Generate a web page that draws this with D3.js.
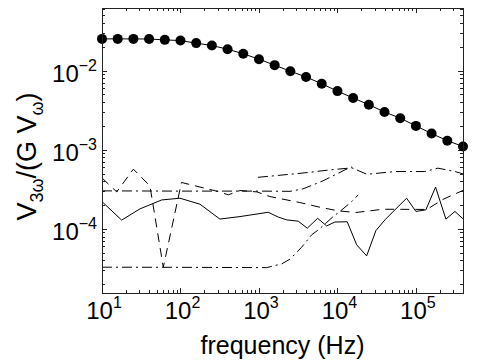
<!DOCTYPE html>
<html><head><meta charset="utf-8">
<script src="https://cdn.jsdelivr.net/npm/d3@7"></script>
<style>
html,body{margin:0;padding:0;background:#fff;}
svg{display:block;font-family:"Liberation Sans",Arial,Helvetica,sans-serif;}
</style></head>
<body><svg id="c" width="485" height="362"></svg>
<script>
// ---- data ----
const dotFreq = [10, 15.85, 25.12, 39.81, 63.1, 100, 158.5, 251.2, 398.1, 631, 1000, 1585, 2512, 3981, 6310, 10000, 15850, 25120, 39810, 63100, 100000, 158500, 251200, 398100];
const dotVals = [0.0251, 0.0251, 0.0251, 0.0250, 0.0244, 0.0239, 0.0222, 0.0207, 0.0186, 0.0163, 0.0139, 0.0117, 0.0098, 0.0083, 0.0068, 0.0055, 0.0045, 0.0037, 0.0030, 0.0025, 0.0020, 0.0016, 0.0013, 0.0011];

const solidFreq = [10, 17.8, 30.5, 57.6, 98.6, 177, 318, 573, 1313, 1762, 2254, 3170, 4125, 5597, 7284, 9290, 13330, 17580, 23560, 30930, 40270, 53970, 76170, 100000, 134000, 178000, 241000, 314000, 398000];
const solidVals = [2.21e-4, 1.29e-4, 1.79e-4, 2.32e-4, 2.44e-4, 2.05e-4, 1.33e-4, 1.43e-4, 1.62e-4, 1.41e-4, 1.30e-4, 1.25e-4, 1.02e-4, 1.36e-4, 1.09e-4, 1.22e-4, 1.23e-4, 6.29e-5, 4.56e-5, 9.52e-5, 1.30e-4, 1.74e-4, 2.44e-4, 1.66e-4, 1.74e-4, 3.37e-4, 1.33e-4, 1.66e-4, 1.34e-4];

const dashFreq = [10, 15.4, 25.1, 40.8, 60.4, 103, 303, 407, 573, 944, 1380, 3327, 5650, 10150, 17200, 38000, 138000, 221000, 398000];
const dashVals = [4.40e-4, 2.93e-4, 5.68e-4, 3.49e-4, 3.28e-5, 3.86e-4, 2.96e-4, 2.69e-4, 3.05e-4, 2.93e-4, 2.56e-4, 2.15e-4, 1.90e-4, 1.69e-4, 1.61e-4, 1.77e-4, 1.76e-4, 2.36e-4, 3.06e-4];

const dashDotAFreq = [10, 100, 1000, 2483, 3637, 6530, 8770, 12470, 15300];
const dashDotAVals = [3.02e-4, 3.0e-4, 3.0e-4, 2.98e-4, 3.20e-4, 4.04e-4, 4.67e-4, 5.56e-4, 6.07e-4];

const dashDotBFreq = [970, 1694, 3530, 8020, 15300, 23770, 53970, 130000, 190700, 314000, 398000];
const dashDotBVals = [4.48e-4, 4.72e-4, 5.06e-4, 5.56e-4, 5.90e-4, 4.89e-4, 5.30e-4, 5.30e-4, 5.85e-4, 5.30e-4, 4.95e-4];

const dashDotCFreq = [10, 100, 1253, 1945, 2483, 3500, 4690, 5860, 8830, 10760, 15170, 18400];
const dashDotCVals = [3.28e-5, 3.27e-5, 3.24e-5, 3.61e-5, 4.14e-5, 5.87e-5, 8.40e-5, 9.91e-5, 1.43e-4, 1.66e-4, 2.21e-4, 2.69e-4];

const xTickExp = [1, 2, 3, 4, 5];
const yTickExp = [-2, -3, -4];
const xLabel = "frequency (Hz)";

// ---- layout ----
const L = 102, R = 463, T = 8, B = 293;
const svg = d3.select("#c");
const x = d3.scaleLog().domain([10, Math.pow(10, 5.6)]).range([L, R]);
const y = d3.scaleLog().domain([Math.pow(10, -4.81), Math.pow(10, -1.21)]).range([B, T]);
const axisCol = "#222";

svg.append("defs").append("clipPath").attr("id", "clip")
  .append("rect").attr("x", L).attr("y", T).attr("width", R - L).attr("height", B - T);

// ---- ticks (inward, all four sides) ----
const tg = svg.append("g").attr("stroke", axisCol).attr("stroke-width", 1).attr("shape-rendering", "crispEdges");
function decadeTicks(dom) {
  const lo = Math.floor(Math.log10(dom[0])), hi = Math.ceil(Math.log10(dom[1]));
  const out = [];
  for (let e = lo; e <= hi; e++) for (let m = 1; m <= 9; m++) {
    const v = m * Math.pow(10, e);
    if (v >= dom[0] * 0.9999 && v <= dom[1] * 1.0001) out.push({ v, major: m === 1 });
  }
  return out;
}
decadeTicks(x.domain()).forEach(t => {
  const px = Math.round(x(t.v)) + 0.5, len = t.major ? 5 : 3;
  tg.append("line").attr("x1", px).attr("x2", px).attr("y1", B).attr("y2", B - len);
  tg.append("line").attr("x1", px).attr("x2", px).attr("y1", T).attr("y2", T + len);
});
decadeTicks(y.domain()).forEach(t => {
  const py = Math.round(y(t.v)) + 0.5, len = t.major ? 5 : 3;
  tg.append("line").attr("y1", py).attr("y2", py).attr("x1", L).attr("x2", L + len);
  tg.append("line").attr("y1", py).attr("y2", py).attr("x1", R).attr("x2", R - len);
});

// ---- series ----
const plot = svg.append("g").attr("clip-path", "url(#clip)");
const line = d3.line().x(d => x(d[0])).y(d => y(d[1]));
function series(fr, vals, dash) {
  plot.append("path").datum(fr.map((f, i) => [f, vals[i]]))
    .attr("d", line).attr("fill", "none").attr("stroke", "#000").attr("stroke-width", 1)
    .attr("stroke-dasharray", dash);
}
series(solidFreq, solidVals, null);
series(dashFreq, dashVals, "9,6");
series(dashDotAFreq, dashDotAVals, "10,4,2,4");
series(dashDotBFreq, dashDotBVals, "10,4,2,4");
series(dashDotCFreq, dashDotCVals, "10,4,2,4");
series(dotFreq, dotVals, null);
svg.append("g").selectAll("circle").data(dotFreq.map((f, i) => [f, dotVals[i]])).join("circle")
  .attr("cx", d => x(d[0])).attr("cy", d => y(d[1])).attr("r", 5).attr("fill", "#000");

// ---- frame ----
svg.append("rect").attr("x", L + 0.5).attr("y", T + 0.5).attr("width", R - L).attr("height", B - T)
  .attr("fill", "none").attr("stroke", axisCol).attr("stroke-width", 1).attr("shape-rendering", "crispEdges");

// ---- tick labels ----
xTickExp.forEach(e => {
  const t = svg.append("text").attr("x", x(Math.pow(10, e)) + 2).attr("y", 319)
    .attr("text-anchor", "middle").attr("font-size", 24).attr("fill", "#000");
  t.append("tspan").text("10");
  t.append("tspan").attr("dy", -11).attr("font-size", 16).text(String(e));
});
yTickExp.forEach(e => {
  const t = svg.append("text").attr("x", 97).attr("y", y(Math.pow(10, e)) + 11)
    .attr("text-anchor", "end").attr("font-size", 24).attr("fill", "#000");
  t.append("tspan").text("10");
  t.append("tspan").attr("dy", -11).attr("font-size", 16).text("\u2212" + (-e));
});

// ---- axis titles ----
svg.append("text").attr("x", (L + R) / 2).attr("y", 354).attr("text-anchor", "middle")
  .attr("font-size", 25).attr("fill", "#000").text(xLabel);
const yl = svg.append("text").attr("transform", `translate(36,${(T + B) / 2 + 6}) rotate(-90)`)
  .attr("text-anchor", "middle").attr("font-size", 27).attr("fill", "#000");
yl.append("tspan").text("V");
yl.append("tspan").attr("dy", 7).attr("font-size", 18).text("3\u03c9");
yl.append("tspan").attr("dy", -7).text("/(G V");
yl.append("tspan").attr("dy", 7).attr("font-size", 18).text("\u03c9");
yl.append("tspan").attr("dy", -7).text(")");
</script></body></html>
